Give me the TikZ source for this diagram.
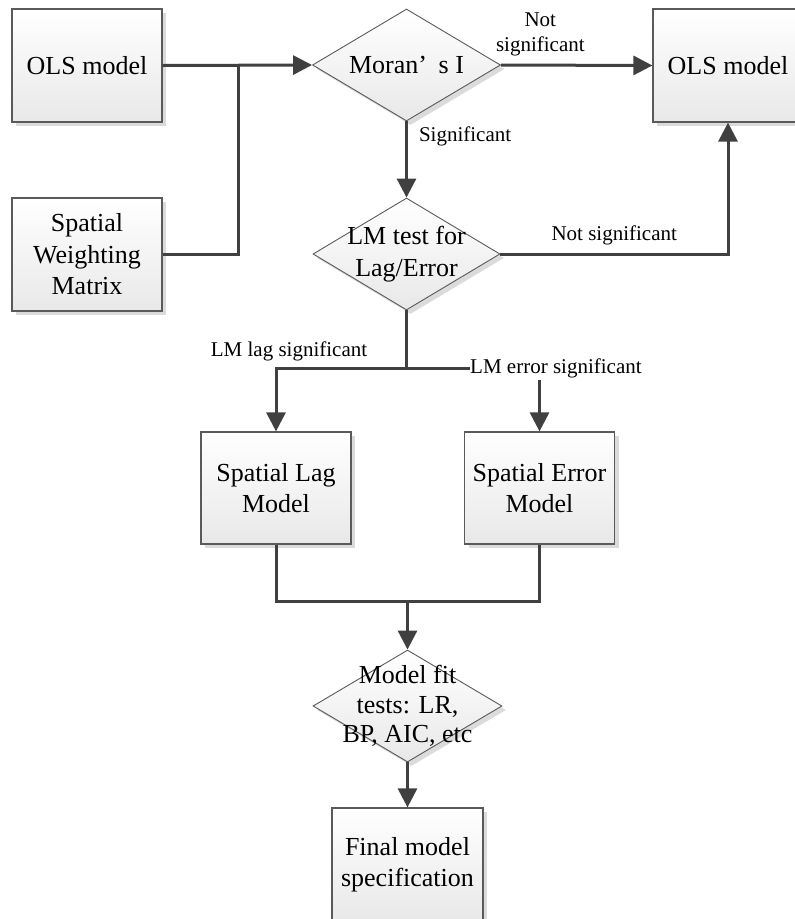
\documentclass[tikz,border=0pt]{standalone}
\usepackage{fontspec}
\setmainfont{Liberation Serif}
\usetikzlibrary{shapes.geometric, arrows.meta, shadows}

\definecolor{flowline}{HTML}{404040}
\definecolor{boxline}{HTML}{5A5A5A}
\newcommand{\boxfont}{\fontsize{26}{31.5}\selectfont}
\newcommand{\fitfont}{\fontsize{26}{29.5}\selectfont}
\newcommand{\lblfont}{\fontsize{21}{25}\selectfont}

\tikzset{
  stepbox/.style={rectangle, draw=boxline, line width=1.2pt, top color=white, bottom color=black!9,
    minimum width=150pt, minimum height=113pt, inner sep=0pt, align=center, font=\boxfont,
    drop shadow={shadow xshift=4pt, shadow yshift=-4pt, fill=black!14, opacity=1}},
  decision/.style={diamond, draw=boxline, line width=0.9pt, top color=white, bottom color=black!9,
    minimum width=188pt, minimum height=112pt, inner sep=0pt,
    drop shadow={shadow xshift=4pt, shadow yshift=-4pt, fill=black!14, opacity=1}},
  dtext/.style={align=center, font=\boxfont, inner sep=0pt},
  lbl/.style={font=\lblfont, inner sep=2pt, align=center},
  flow/.style={draw=flowline, line width=3pt},
  arr/.style={flow, -{Triangle[length=19pt, width=19pt]}}
}

\begin{document}
\begin{tikzpicture}[x=1pt, y=-1pt]
    \useasboundingbox (0,0) rectangle (795,919);

    % inputs and tests
    \node [stepbox] (ols) at (87,65.5) {OLS model};
    \node [stepbox] (weights) at (87,254.5) {Spatial\\Weighting\\Matrix};
    \node [decision] (moran) at (406.5,65) {};
    \node [dtext] (moranText) at (moran) {Moran’\hspace{0.45em}s I};
    \node [stepbox] (olsR) at (728,65.5) {OLS model};
    \node [decision, minimum width=187pt] (lmtest) at (406.5,254) {};
    \node [dtext] (lmText) at (lmtest) {LM test for\\Lag/Error};

    % models
    \node [stepbox, minimum height=112pt] (lag) at (276,488) {Spatial Lag\\Model};
    \node [stepbox, minimum height=112pt] (err) at (539.5,488) {Spatial Error\\Model};
    \node [decision, minimum width=189pt] (fit) at (407.5,706) {};
    \node [dtext, font=\fitfont] (fitText) at (fit) {Model fit\\tests: LR,\\BP, AIC, etc};
    \node [stepbox, minimum width=151pt] (final) at (407.5,864.5) {Final model\\specification};

    % top part
    \coordinate (join) at ([xshift=76pt]ols.east);
    \draw[arr] (ols.east) -- (moran.west);
    \draw[flow] (weights.east) -| (join);
    \draw[arr] (moran.east) -- node[lbl, pos=0.26, above=6pt] (nsTop) {Not\\significant} (olsR.west);
    \draw[arr] (moran.south) -- node[lbl, pos=0.2, right=9pt] (sigLbl) {Significant} (lmtest.north);
    \draw[arr] (lmtest.east) -| node[lbl, pos=0.25, above=5pt] (nsLow) {Not significant} (olsR.south);

    % split into lag / error
    \node [lbl, anchor=west, inner sep=0pt] (errLbl) at (470,368) {LM error significant};
    \coordinate (split) at (lmtest.south |- errLbl.west);
    \draw[flow] (lmtest.south) -- (split) -- (errLbl.west);
    \draw[arr] (split) -| node[lbl, pos=0.45, above=3pt] (lagLbl) {LM lag significant} (lag.north);
    \draw[arr] ([yshift=-12pt]errLbl.center -| err.north) -- (err.north);

    % merge and final
    \coordinate (merge) at ([yshift=-57pt]lag.south -| fit.north);
    \draw[flow] (lag.south) |- (merge) -| (err.south);
    \draw[arr] (merge) -- (fit.north);
    \draw[arr] (fit.south) -- (final.north);
\end{tikzpicture}
\end{document}
